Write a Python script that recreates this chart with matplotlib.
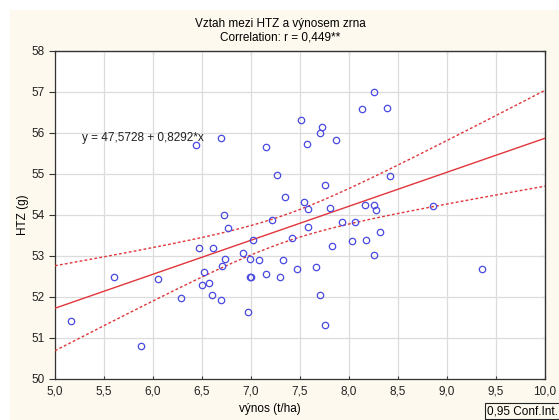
import matplotlib.pyplot as plt
import numpy as np
from matplotlib.patches import Rectangle

# data
vynos = np.array([
    5.16, 5.60, 5.88, 6.05, 6.29, 6.47, 6.50, 6.52, 6.57, 6.60,
    6.61, 6.69, 6.70, 6.73, 6.77, 6.92, 6.97, 6.99, 6.99, 7.00,
    7.02, 7.08, 7.15, 7.21, 7.30, 7.33, 7.42, 7.47, 7.58, 7.66,
    7.70, 7.76, 7.83, 6.44, 6.69, 7.15, 7.27, 7.35, 6.72, 8.26,
    8.13, 8.39, 7.51, 7.72, 7.70, 7.57, 7.87, 7.75, 8.42, 7.54,
    7.58, 7.81, 8.16, 8.25, 8.28, 8.86, 7.93, 8.06, 8.32, 8.03,
    8.17, 8.26, 9.36,
])
htz = np.array([
    51.40, 52.49, 50.79, 52.42, 51.98, 53.18, 52.28, 52.60, 52.34, 52.04,
    53.18, 51.91, 52.75, 52.92, 53.68, 53.07, 51.63, 52.92, 52.48, 52.48,
    53.38, 52.90, 52.56, 53.87, 52.47, 52.90, 53.44, 52.67, 53.69, 52.73,
    52.04, 51.31, 53.24, 55.70, 55.88, 55.66, 54.97, 54.43, 54.00, 56.99,
    56.58, 56.60, 56.30, 56.15, 56.00, 55.72, 55.83, 54.73, 54.94, 54.32,
    54.15, 54.17, 54.24, 54.24, 54.11, 54.21, 53.83, 53.83, 53.57, 53.35,
    53.38, 53.01, 52.67,
])
intercept = 47.5728
slope = 0.8292

plt.rcParams['font.family'] = ['Liberation Sans', 'DejaVu Sans']

fig = plt.figure(figsize=(5.59, 4.2), dpi=100)
fig.patch.set_facecolor('white')
fig.patches.append(Rectangle((10 / 559, 0), 1, 1 - 10 / 420, transform=fig.transFigure,
                             facecolor='#fdf9ee', edgecolor='none', zorder=-10))
ax = fig.add_axes([55 / 559, 1 - 378.7 / 420, 490 / 559, 328 / 420])
ax.set_facecolor('white')

# regression line + 95% confidence band
xs = np.linspace(5, 10, 200)
fit = intercept + slope * xs
n = len(vynos)
resid = htz - (intercept + slope * vynos)
s = np.sqrt(np.sum(resid ** 2) / (n - 2))
sxx = np.sum((vynos - vynos.mean()) ** 2)
half = 2.0 * s * np.sqrt(1 / n + (xs - vynos.mean()) ** 2 / sxx)

ax.plot(xs, fit, color='#e0353a', linewidth=1.0, zorder=3)
ax.plot(xs, fit + half, color='#e0353a', linewidth=1.0, linestyle=(0, (2, 1.6)), zorder=3)
ax.plot(xs, fit - half, color='#e0353a', linewidth=1.0, linestyle=(0, (2, 1.6)), zorder=3)

ax.plot(vynos, htz, linestyle='none', marker='o', markersize=4.6, markerfacecolor='none',
        markeredgecolor='#4a4ae0', markeredgewidth=0.9, zorder=4)

ax.set_xlim(5, 10)
ax.set_ylim(50, 58)
ax.set_xticks(np.arange(5, 10.01, 0.5))
ax.set_xticklabels([f"{v:.1f}".replace('.', ',') for v in np.arange(5, 10.01, 0.5)])
ax.set_yticks(np.arange(50, 59, 1))
ax.grid(color='#dcdcdc', linewidth=0.9)
ax.set_axisbelow(True)
for sp in ax.spines.values():
    sp.set_color('#333333')
    sp.set_linewidth(0.9)
ax.tick_params(axis='both', labelsize=8.5, colors='#333333', labelcolor='#222222', width=0.8)
ax.tick_params(axis='y', direction='out', length=4, right=False)
ax.tick_params(axis='x', direction='in', length=2, pad=5)
ax.secondary_yaxis('right').tick_params(direction='in', length=2, labelright=False, width=0.8)
ax.secondary_xaxis('top').tick_params(direction='in', length=2, labeltop=False, width=0.8)

ax.text(5.28, 55.88, "y = 47,5728 + 0,8292*x", fontsize=8.5, ha='left', va='center', color='#222222')

fig.text(280 / 559, 1 - 24 / 420, "Vztah mezi HTZ a výnosem zrna", fontsize=8.5, ha='center', va='center')
fig.text(280 / 559, 1 - 37 / 420, "Correlation: r = 0,449**", fontsize=8.5, ha='center', va='center')
fig.text(270 / 559, 1 - 409 / 420, "výnos (t/ha)", fontsize=8.5, ha='center', va='center')
fig.text(23 / 559, 1 - 215 / 420, "HTZ (g)", fontsize=8.5, ha='center', va='center', rotation=90)

fig.text(487 / 559, 1 - 411 / 420, "0,95 Conf.Int.", fontsize=8.5, ha='left', va='center',
         bbox=dict(boxstyle='square,pad=0.2', facecolor='#fdf9ee', edgecolor='#222222', linewidth=0.8))

plt.savefig("out.png", dpi=100)
